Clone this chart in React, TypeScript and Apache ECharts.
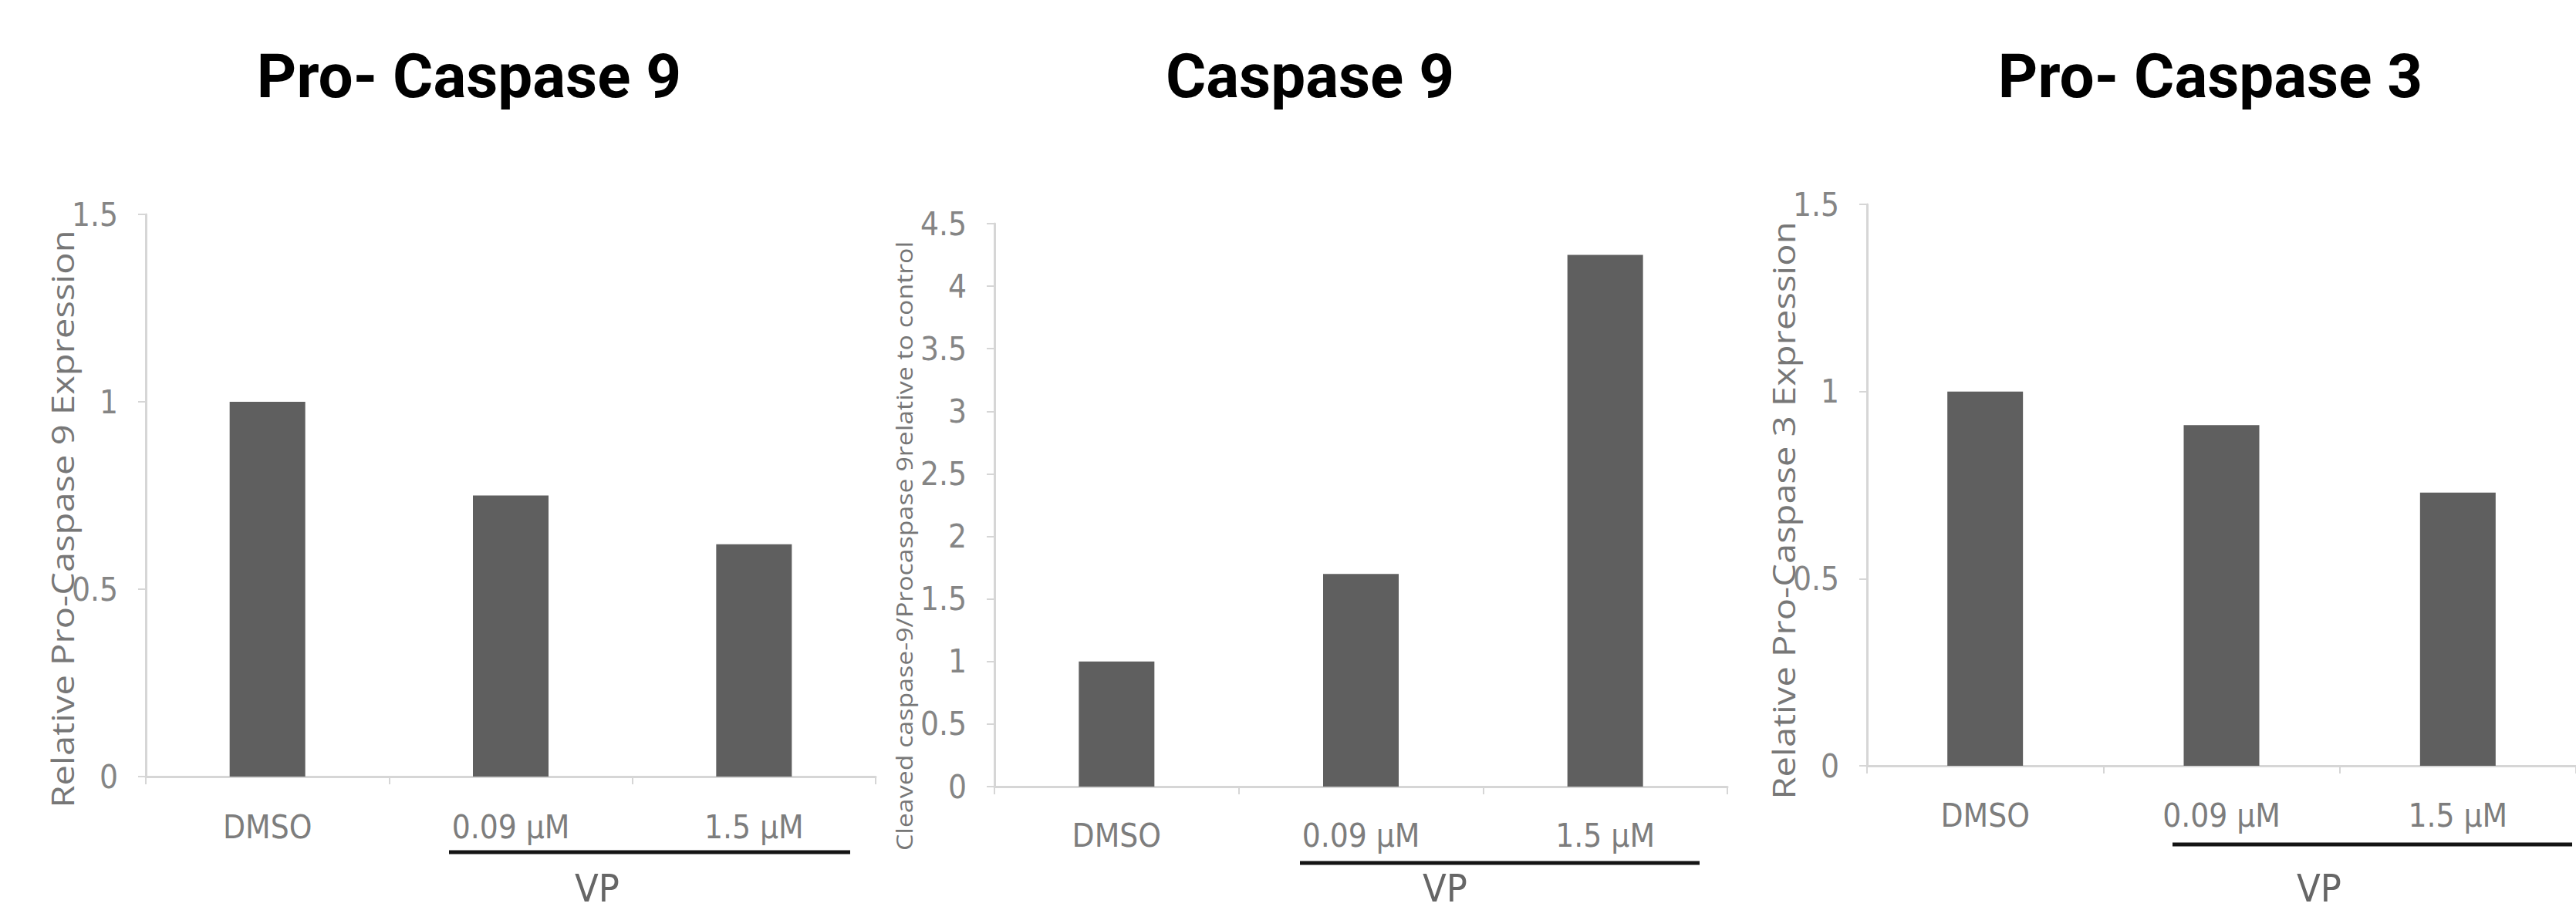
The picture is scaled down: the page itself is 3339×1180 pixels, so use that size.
import React, { useEffect, useRef } from 'react';
import * as echarts from 'echarts';

const categories = ['DMSO', '0.09 µM', '1.5 µM'];
const proCaspase9 = [1.0, 0.75, 0.62];
const caspase9 = [1.0, 1.7, 4.25];
const proCaspase3 = [1.0, 0.91, 0.73];
const panelTitles = ['Pro- Caspase 9', 'Caspase 9', 'Pro- Caspase 3'];
const yTitles = [
  'Relative Pro-Caspase 9 Expression',
  'Cleaved caspase-9/Procaspase 9relative to control',
  'Relative Pro-Caspase 3 Expression',
];
const yMax = [1.5, 4.5, 1.5];
const groupLabel = 'VP';

const NARROW = "'Liberation Sans Narrow', 'Arial Narrow', 'DejaVu Sans Condensed', Lato, sans-serif";
const HUMAN = "'Open Sans', 'Noto Sans', sans-serif";

const grids = [
  { left: 189, top: 278, width: 946, height: 729 },
  { left: 1289, top: 290, width: 950, height: 730 },
  { left: 2420, top: 265, width: 947, height: 728 },
];
const titleX = [608, 1698, 2865];
const yTitlePos = [
  { x: 80, y: 673, size: 41 },
  { x: 1171, y: 708, size: 29.5 },
  { x: 2311, y: 662, size: 41 },
];
const underline = [
  { x1: 582, x2: 1102, y: 1105 },
  { x1: 1685, x2: 2203, y: 1119 },
  { x1: 2816, x2: 3334, y: 1095 },
];
const vpX = [774, 1873, 3006];
const labelMargin = [44, 42, 43];

export default function App() {
  const ref = useRef<HTMLDivElement>(null);
  useEffect(() => {
    if (!ref.current) return;
    const chart = echarts.init(ref.current, undefined, { renderer: 'svg' });
    const seriesData = [proCaspase9, caspase9, proCaspase3];
    const axisGray = '#d6d6d6';
    const option: any = {
      animation: false,
      backgroundColor: '#ffffff',
      grid: grids.map((g) => ({ ...g, containLabel: false })),
      xAxis: grids.map((_, i) => ({
        type: 'category',
        gridIndex: i,
        data: categories,
        boundaryGap: true,
        axisLine: { show: true, lineStyle: { color: axisGray, width: 3 } },
        axisTick: { show: true, length: 10, lineStyle: { color: axisGray, width: 2 } },
        axisLabel: {
          color: '#7d7d7d',
          fontFamily: NARROW,
          fontSize: 42,
          margin: labelMargin[i],
        },
        splitLine: { show: false },
      })),
      yAxis: grids.map((_, i) => ({
        type: 'value',
        gridIndex: i,
        min: 0,
        max: yMax[i],
        interval: 0.5,
        axisLine: { show: true, lineStyle: { color: axisGray, width: 3 } },
        axisTick: { show: true, length: 10, lineStyle: { color: axisGray, width: 2 } },
        axisLabel: {
          color: '#858585',
          fontFamily: NARROW,
          fontSize: 42,
          margin: 36,
        },
        splitLine: { show: false },
      })),
      series: seriesData.map((d, i) => ({
        type: 'bar',
        xAxisIndex: i,
        yAxisIndex: i,
        data: d,
        barWidth: 98,
        itemStyle: { color: '#5f5f5f' },
      })),
      graphic: [
        ...panelTitles.map((t, i) => ({
          type: 'text',
          x: titleX[i],
          y: 59,
          style: {
            text: t,
            textAlign: 'center',
            textVerticalAlign: 'top',
            font: "bold 80px Roboto, 'Noto Sans', sans-serif",
            fill: '#000000',
          },
        })),
        ...yTitles.map((t, i) => ({
          type: 'text',
          x: yTitlePos[i].x,
          y: yTitlePos[i].y,
          rotation: Math.PI / 2,
          scaleX: 1.15,
          style: {
            text: t,
            textAlign: 'center',
            textVerticalAlign: 'middle',
            font: `${yTitlePos[i].size}px ${HUMAN}`,
            fill: '#777777',
          },
        })),
        ...underline.map((u) => ({
          type: 'line',
          shape: { x1: u.x1, y1: u.y, x2: u.x2, y2: u.y },
          style: { stroke: '#141414', lineWidth: 5 },
        })),
        ...vpX.map((x) => ({
          type: 'text',
          x,
          y: 1177,
          style: {
            text: groupLabel,
            textAlign: 'center',
            textVerticalAlign: 'bottom',
            font: `50px ${NARROW}`,
            fill: '#666666',
          },
        })),
      ],
    };
    chart.setOption(option);
    return () => chart.dispose();
  }, []);
  return (
    <div
      ref={ref}
      style={{ position: 'absolute', left: 0, top: 0, width: 3339, height: 1180, background: '#fff' }}
    />
  );
}
